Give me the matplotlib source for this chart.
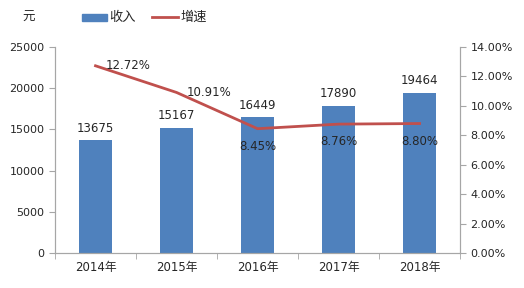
import matplotlib.pyplot as plt
import numpy as np

plt.rcParams['font.family'] = ['DejaVu Sans', 'Noto Sans CJK SC']

# 数据
years = ['2014年', '2015年', '2016年', '2017年', '2018年']
income = [13675, 15167, 16449, 17890, 19464]
growth = [12.72, 10.91, 8.45, 8.76, 8.80]

bar_color = '#4F81BD'
line_color = '#C0504D'
axis_color = '#A6A6A6'
fs = 8

fig = plt.figure(figsize=(5.24, 2.88), dpi=100)
ax = fig.add_axes([0.105, 0.121, 0.773, 0.716])
ax2 = ax.twinx()

x = np.arange(len(years))
ax.bar(x, income, width=0.4, color=bar_color, zorder=2)
ax.set_xlim(-0.5, len(years) - 0.5)
ax.set_ylim(0, 25000)
ax.set_yticks(range(0, 25001, 5000))

ax2.plot(x, growth, color=line_color, linewidth=2, zorder=3)
ax2.set_ylim(0, 14)
ax2.set_yticks(range(0, 15, 2))
ax2.set_yticklabels(['%.2f%%' % v for v in range(0, 15, 2)])

for a in (ax, ax2):
    for s in a.spines.values():
        s.set_color(axis_color)
    a.spines['top'].set_visible(False)
    a.tick_params(colors=axis_color, labelcolor='#262626', labelsize=fs, length=4)

ax.set_xticks(x)
ax.set_xticklabels(years, fontsize=fs + 0.5)
ax.tick_params(axis='x', length=0, pad=6)
ax.set_xticks(np.arange(-0.5, len(years)), minor=True)
ax.tick_params(axis='x', which='minor', length=4, colors=axis_color)

# 数值标签
for i, v in enumerate(income):
    ax.annotate(str(v), (x[i], v), xytext=(0, 4), textcoords='offset points',
                ha='center', va='bottom', fontsize=fs + 0.5, color='#262626')

offsets = [(7, 0, 'left', 'center'), (7, 0, 'left', 'center'),
           (0, -8, 'center', 'top'), (0, -8, 'center', 'top'), (0, -8, 'center', 'top')]
for i, v in enumerate(growth):
    dx, dy, ha, va = offsets[i]
    ax2.annotate('%.2f%%' % v, (x[i], v), xytext=(dx, dy), textcoords='offset points',
                 ha=ha, va=va, fontsize=fs + 0.5, color='#262626')

# 图例
fig.text(0.042, 0.94, '元', fontsize=9, va='center', color='#262626')
fig.patches.append(plt.Rectangle((0.157, 0.928), 0.047, 0.025, color=bar_color,
                                 transform=fig.transFigure, figure=fig))
fig.text(0.208, 0.94, '收入', fontsize=9.5, va='center', color='#262626')
fig.lines.append(plt.Line2D([0.29, 0.34], [0.94, 0.94], color=line_color, linewidth=2,
                            transform=fig.transFigure, figure=fig))
fig.text(0.344, 0.94, '增速', fontsize=9.5, va='center', color='#262626')

fig.savefig('out.png', dpi=100)
